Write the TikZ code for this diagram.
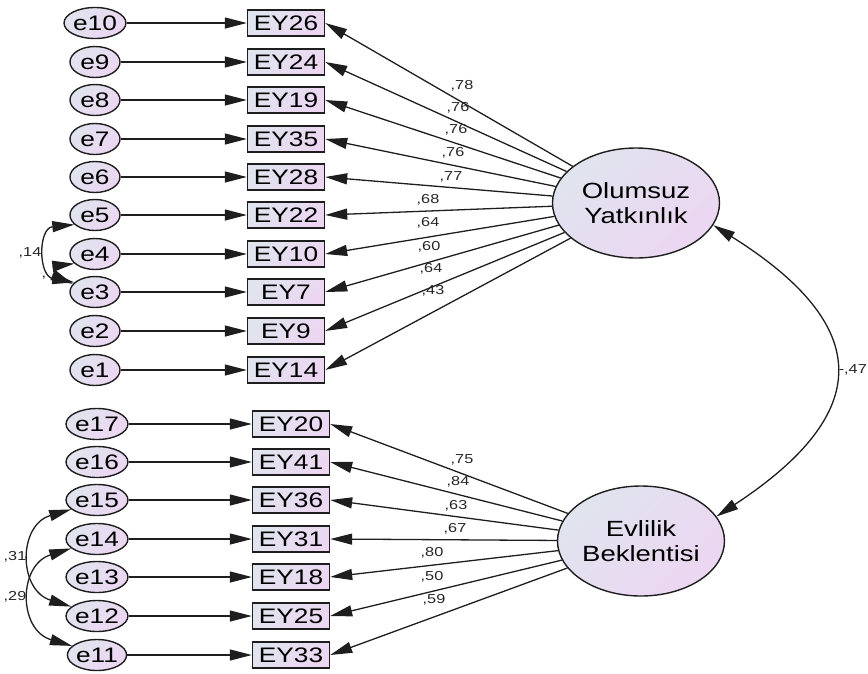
\documentclass[tikz,border=0pt]{standalone}
\usepackage{fontspec}
\setmainfont[FakeStretch=1.25]{Liberation Sans}
\usetikzlibrary{arrows.meta,shapes.geometric}
\definecolor{fillA}{RGB}{224,228,238}
\definecolor{fillB}{RGB}{236,214,242}
\definecolor{edge}{RGB}{30,30,30}
\begin{document}
\begin{tikzpicture}[x=1pt,y=-1pt,
  err/.style={ellipse,draw=edge,line width=1.4pt,minimum width=50pt,minimum height=31pt,inner sep=0pt,
    left color=fillA,right color=fillB,shading angle=45,font=\fontsize{21}{21}\selectfont},
  obs/.style={rectangle,draw=edge,line width=1.4pt,minimum width=77pt,minimum height=26pt,inner sep=0pt,
    left color=fillA,right color=fillB,shading angle=45,font=\fontsize{21}{21}\selectfont},
  lat/.style={ellipse,draw=edge,line width=1.4pt,minimum width=167pt,minimum height=110pt,inner sep=0pt,
    left color=fillA,right color=fillB,shading angle=45,align=center,font=\fontsize{22}{25}\selectfont},
  arr/.style={-{Triangle[length=22pt,width=11pt]},line width=1.3pt,draw=edge},
  darr/.style={{Triangle[length=22pt,width=11pt]}-{Triangle[length=22pt,width=11pt]},line width=1.3pt,draw=edge},
  lbl/.style={font=\fontsize{13}{13}\selectfont,inner sep=0pt,text=black!85}]
\useasboundingbox (0,0) rectangle (868,673);

% latent variables
\node[lat] (L1) at (636,203) {Olumsuz\\Yatk\i nl\i k};
\node[lat] (L2) at (641,541) {Evlilik\\Beklentisi};

% top group
\foreach \e/\b/\y [count=\i] in {e10/EY26/23, e9/EY24/62, e8/EY19/100, e7/EY35/139, e6/EY28/177,
    e5/EY22/215, e4/EY10/254, e3/EY7/292, e2/EY9/331, e1/EY14/370}{
  \node[err] (\e) at (95,\y) {\e};
  \node[obs] (\b) at (286,\y) {\b};
  \draw[arr] (\e) -- (\b);
  \draw[arr] (L1) -- (\b.east);
}
% bottom group
\foreach \e/\b/\y in {e17/EY20/424, e16/EY41/462, e15/EY36/500, e14/EY31/539,
    e13/EY18/577, e12/EY25/616, e11/EY33/655}{
  \node[err] (\e) at (97,\y) {\e};
  \node[obs] (\b) at (291,\y) {\b};
  \draw[arr] (\e) -- (\b);
  \draw[arr] (L2) -- (\b.east);
}

% loading labels
\node[lbl] (t1) at (462,86) {,78};
\node[lbl] (t2) at (458,108) {,76};
\node[lbl] (t3) at (456,130) {,76};
\node[lbl] (t4) at (453,153) {,76};
\node[lbl] (t5) at (451,177) {,77};
\node[lbl] (t6) at (428,200) {,68};
\node[lbl] (t7) at (428,223) {,64};
\node[lbl] (t8) at (429,247) {,60};
\node[lbl] (t9) at (431,269) {,64};
\node[lbl] (t10) at (433,291) {,43};

\node[lbl] (b1) at (462,460) {,75};
\node[lbl] (b2) at (458,482) {,84};
\node[lbl] (b3) at (456,506) {,63};
\node[lbl] (b4) at (455,529) {,67};
\node[lbl] (b5) at (432,553) {,80};
\node[lbl] (b6) at (432,577) {,50};
\node[lbl] (b7) at (434,600) {,59};

% latent covariance
\draw[darr] (L1.-16) .. controls (874,326) and (874,413) .. (L2.18);
\node[lbl,anchor=east] (c0) at (867,370) {-,47};

% error covariances
\draw[darr] (e5.205) .. controls (38,228) and (38,276) .. (e3.155);
\node[lbl] (c1) at (30,253) {,14};
\draw[darr] (e4.205) .. controls (55,266) and (55,276) .. (e3.160);
\node[lbl] (c2) at (44,278) {,};

\draw[darr] (e15.200) .. controls (18,525) and (18,590) .. (e12.160);
\node[lbl] (c3) at (15,557) {,31};
\draw[darr] (e14.200) .. controls (18,565) and (18,630) .. (e11.160);
\node[lbl] (c4) at (15,597) {,29};
\end{tikzpicture}
\end{document}
